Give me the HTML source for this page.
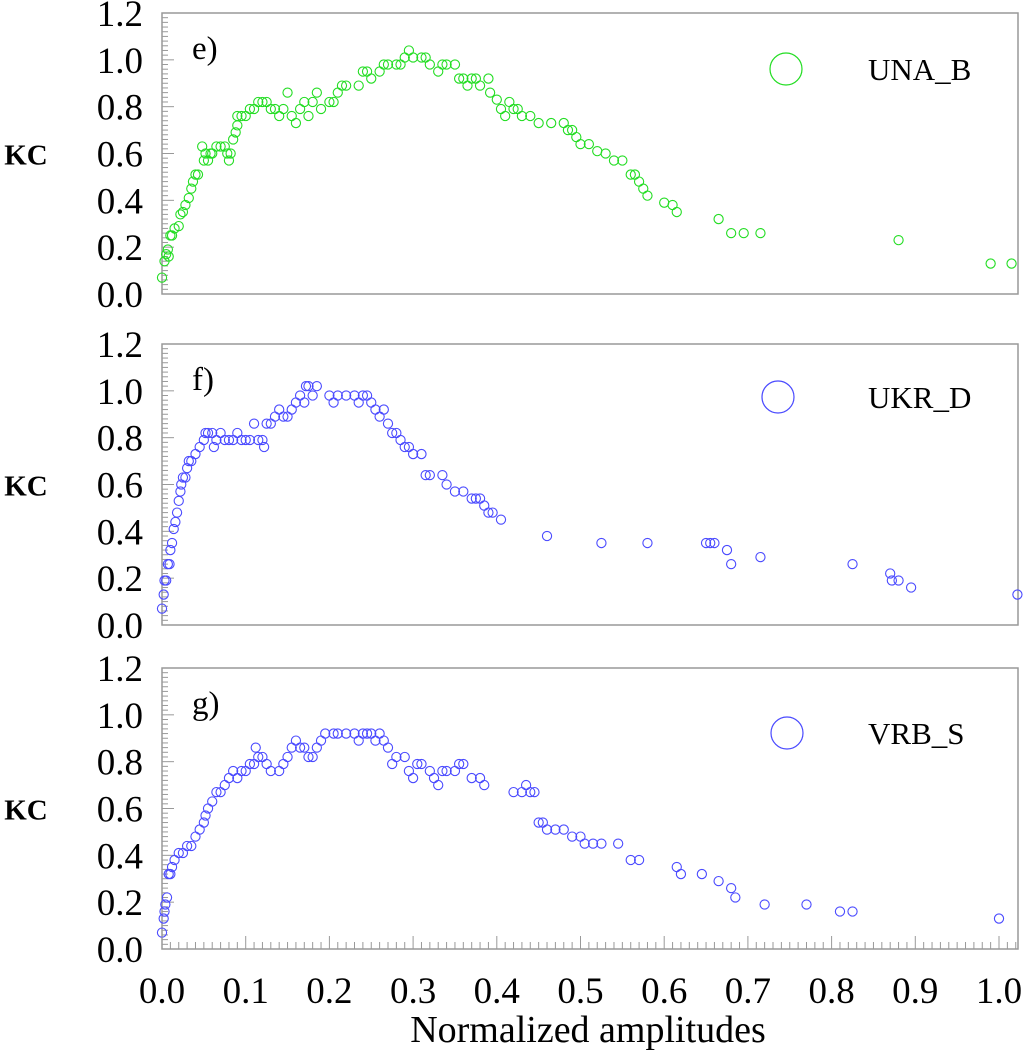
<!DOCTYPE html>
<html><head><meta charset="utf-8"><style>
body{margin:0;background:#fff}
svg{display:block}
text{font-family:"Liberation Serif","DejaVu Serif",serif}
</style></head><body>
<svg id="chart" width="1024" height="1053" xmlns="http://www.w3.org/2000/svg"></svg>
<script>
const xTicks=[0,0.1,0.2,0.3,0.4,0.5,0.6,0.7,0.8,0.9,1.0];
const yTicks=[0,0.2,0.4,0.6,0.8,1.0,1.2];
const seriesNames=["UNA_B","UKR_D","VRB_S"];
const panelLabels=["e)","f)","g)"];
const unaX=[0,0.003,0.005,0.007,0.008,0.01,0.012,0.015,0.02,0.022,0.025,0.028,0.032,0.035,0.037,0.04,0.043,0.048,0.05,0.052,0.055,0.058,0.06,0.065,0.07,0.075,0.078,0.08,0.082,0.085,0.088,0.09,0.09,0.095,0.1,0.105,0.11,0.115,0.12,0.125,0.13,0.135,0.14,0.145,0.15,0.155,0.16,0.165,0.17,0.175,0.18,0.185,0.19,0.2,0.205,0.21,0.215,0.22,0.235,0.24,0.245,0.25,0.26,0.265,0.27,0.28,0.285,0.29,0.295,0.3,0.31,0.315,0.32,0.33,0.335,0.34,0.35,0.355,0.36,0.365,0.37,0.375,0.38,0.39,0.392,0.4,0.405,0.41,0.415,0.42,0.425,0.43,0.44,0.45,0.465,0.48,0.485,0.49,0.495,0.5,0.51,0.52,0.53,0.54,0.55,0.56,0.565,0.57,0.575,0.58,0.6,0.61,0.615,0.665,0.68,0.695,0.715,0.88,0.99,1.015];
const unaY=[0.07,0.14,0.17,0.19,0.16,0.25,0.25,0.28,0.29,0.34,0.35,0.38,0.41,0.45,0.48,0.51,0.51,0.63,0.57,0.6,0.57,0.6,0.6,0.63,0.63,0.63,0.6,0.57,0.6,0.66,0.69,0.72,0.76,0.76,0.76,0.79,0.79,0.82,0.82,0.82,0.79,0.79,0.76,0.79,0.86,0.76,0.73,0.79,0.82,0.76,0.82,0.86,0.79,0.82,0.82,0.86,0.89,0.89,0.89,0.95,0.95,0.92,0.95,0.98,0.98,0.98,0.98,1.01,1.04,1.01,1.01,1.01,0.98,0.95,0.98,0.98,0.98,0.92,0.92,0.89,0.92,0.92,0.89,0.92,0.86,0.83,0.79,0.76,0.82,0.79,0.79,0.76,0.76,0.73,0.73,0.73,0.7,0.7,0.67,0.64,0.64,0.61,0.6,0.57,0.57,0.51,0.51,0.48,0.45,0.42,0.39,0.38,0.35,0.32,0.26,0.26,0.26,0.23,0.13,0.13];
const ukrX=[0,0.002,0.003,0.005,0.007,0.009,0.01,0.012,0.014,0.016,0.018,0.02,0.022,0.023,0.025,0.028,0.03,0.032,0.035,0.04,0.045,0.05,0.052,0.055,0.06,0.062,0.065,0.07,0.075,0.08,0.085,0.09,0.095,0.1,0.105,0.11,0.115,0.12,0.122,0.125,0.13,0.135,0.14,0.145,0.15,0.155,0.16,0.165,0.17,0.172,0.175,0.18,0.185,0.2,0.205,0.21,0.22,0.23,0.235,0.24,0.245,0.25,0.255,0.26,0.265,0.27,0.275,0.28,0.285,0.29,0.295,0.3,0.31,0.315,0.32,0.335,0.34,0.35,0.36,0.37,0.375,0.38,0.385,0.39,0.395,0.405,0.46,0.525,0.58,0.65,0.655,0.66,0.675,0.68,0.715,0.825,0.87,0.872,0.88,0.895,1.022];
const ukrY=[0.07,0.13,0.19,0.19,0.26,0.26,0.32,0.35,0.41,0.44,0.48,0.53,0.57,0.6,0.63,0.63,0.67,0.7,0.7,0.73,0.76,0.79,0.82,0.82,0.82,0.76,0.79,0.82,0.79,0.79,0.79,0.82,0.79,0.79,0.79,0.86,0.79,0.79,0.76,0.86,0.86,0.89,0.92,0.89,0.89,0.92,0.95,0.98,0.95,1.02,1.02,0.98,1.02,0.98,0.95,0.98,0.98,0.98,0.95,0.98,0.98,0.95,0.92,0.89,0.92,0.86,0.82,0.82,0.79,0.76,0.76,0.73,0.73,0.64,0.64,0.64,0.6,0.57,0.57,0.54,0.54,0.54,0.51,0.48,0.48,0.45,0.38,0.35,0.35,0.35,0.35,0.35,0.32,0.26,0.29,0.26,0.22,0.19,0.19,0.16,0.13];
const vrbX=[0,0.002,0.003,0.004,0.006,0.008,0.01,0.012,0.015,0.02,0.025,0.03,0.035,0.04,0.045,0.05,0.052,0.055,0.06,0.065,0.07,0.075,0.08,0.085,0.09,0.095,0.1,0.105,0.11,0.112,0.115,0.12,0.125,0.13,0.14,0.145,0.15,0.155,0.16,0.165,0.17,0.175,0.18,0.185,0.19,0.195,0.205,0.21,0.22,0.23,0.235,0.24,0.245,0.25,0.255,0.26,0.265,0.27,0.275,0.28,0.29,0.295,0.3,0.305,0.31,0.32,0.325,0.33,0.335,0.34,0.35,0.355,0.36,0.37,0.38,0.385,0.42,0.43,0.435,0.44,0.445,0.45,0.455,0.46,0.47,0.48,0.49,0.5,0.505,0.515,0.525,0.545,0.56,0.57,0.615,0.62,0.645,0.665,0.68,0.685,0.72,0.77,0.81,0.825,1.0];
const vrbY=[0.07,0.13,0.16,0.19,0.22,0.32,0.32,0.35,0.38,0.41,0.41,0.44,0.44,0.48,0.51,0.54,0.57,0.6,0.63,0.67,0.67,0.7,0.73,0.76,0.73,0.76,0.76,0.79,0.79,0.86,0.82,0.82,0.79,0.76,0.76,0.79,0.82,0.86,0.89,0.86,0.86,0.82,0.82,0.86,0.89,0.92,0.92,0.92,0.92,0.92,0.89,0.92,0.92,0.92,0.89,0.92,0.89,0.86,0.79,0.82,0.82,0.76,0.73,0.79,0.79,0.76,0.73,0.7,0.76,0.76,0.76,0.79,0.79,0.73,0.73,0.7,0.67,0.67,0.7,0.67,0.67,0.54,0.54,0.51,0.51,0.51,0.48,0.48,0.45,0.45,0.45,0.45,0.38,0.38,0.35,0.32,0.32,0.29,0.26,0.22,0.19,0.19,0.16,0.16,0.13];

const NS="http://www.w3.org/2000/svg";
const svg=document.getElementById('chart');
const L=162,R=1018;
const FF='"Liberation Serif","DejaVu Serif",serif';
const panels=[{top:13,bottom:294,xs:unaX,ys:unaY,color:"#22dd22",lx:786,ly:69,name:"una-b"},
{top:344,bottom:625,xs:ukrX,ys:ukrY,color:"#4a4aff",lx:778,ly:397,name:"ukr-d"},
{top:668,bottom:949,xs:vrbX,ys:vrbY,color:"#4a4aff",lx:787,ly:733,name:"vrb-s"}];
function xs(v){return L+v*837;}
function mk(tag,attrs,parent){const e=document.createElementNS(NS,tag);for(const k in attrs)e.setAttribute(k,attrs[k]);if(tag==='text')e.setAttribute('font-family',FF);(parent||svg).appendChild(e);return e;}
panels.forEach((p,i)=>{
  const g=mk('g',{});
  
  
  const ys=v=>p.bottom-v/1.2*(p.bottom-p.top);
  const fr=mk('rect',{x:L,y:p.top,width:R-L,height:p.bottom-p.top,fill:'none',stroke:'#999','stroke-width':1.5},g);
  
  
  for(let k=0;k<=60;k++){const v=k*0.02;const y=ys(v);const major=k%10==0;
    mk('line',{x1:L,x2:L+(major?12:6),y1:y,y2:y,stroke:'#999','stroke-width':1},g);}
  yTicks.forEach(v=>{const t=mk('text',{x:143,y:ys(v)+13,'text-anchor':'end','font-size':37},g);t.textContent=v.toFixed(1);
    
    });
  const kc=mk('text',{x:26,y:(p.top+p.bottom)/2+11,'text-anchor':'middle','font-size':29,'font-weight':'bold'},g);kc.textContent="KC";
  
  
  const pl=mk('text',{x:192,y:p.top+46,'font-size':33},g);pl.textContent=panelLabels[i];
  
  
  p.xs.forEach((xv,j)=>{const c=mk('circle',{cx:xs(xv),cy:ys(p.ys[j]),r:4.6,fill:'none',stroke:p.color,'stroke-width':1.1},g);
    
    });
  const lc=mk('circle',{cx:p.lx,cy:p.ly,r:16,fill:'none',stroke:p.color,'stroke-width':1.2},g);
  
  
  const lt=mk('text',{x:868,y:p.ly+11,'font-size':31},g);lt.textContent=seriesNames[i];
  
  
  if(i==2){
    for(let k=0;k<=102;k++){const x=xs(k*0.01);const major=k%10==0;
      mk('line',{x1:x,x2:x,y1:p.bottom,y2:p.bottom-(major?13:7),stroke:'#999','stroke-width':1},g);}
    xTicks.forEach(v=>{const t=mk('text',{x:xs(v),y:1003,'text-anchor':'middle','font-size':37},g);t.textContent=v.toFixed(1);
      
      });
  }
});
const xt=mk('text',{x:588,y:1042,'text-anchor':'middle','font-size':38});xt.textContent="Normalized amplitudes";


</script>
</body></html>
